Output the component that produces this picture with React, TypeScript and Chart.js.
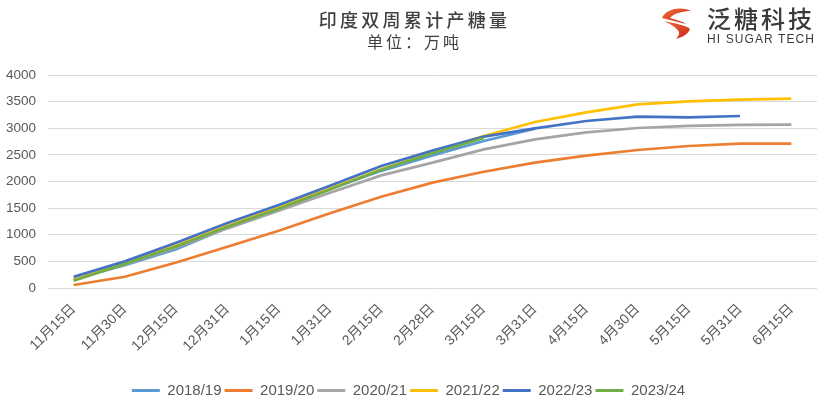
import React, { useEffect, useRef } from "react";
import { Chart, registerables } from "chart.js";

Chart.register(...registerables);

const categories = [
  "11月15日", "11月30日", "12月15日", "12月31日", "1月15日", "1月31日", "2月15日",
  "2月28日", "3月15日", "3月31日", "4月15日", "4月30日", "5月15日", "5月31日", "6月15日",
];

const seriesNames = ["2018/19", "2019/20", "2020/21", "2021/22", "2022/23", "2023/24"];
const seriesColors = ["#5B9BD5", "#ED7D31", "#A5A5A5", "#FFC000", "#4472C4", "#70AD47"];

const s2018 = [170, 430, 730, 1130, 1480, 1860, 2200, 2490, 2760, 2990, null, null, null, null, null];
const s2019 = [56, 212, 480, 776, 1076, 1403, 1715, 1978, 2184, 2353, 2485, 2592, 2667, 2710, 2710];
const s2020 = [160, 440, 760, 1120, 1450, 1790, 2115, 2355, 2604, 2792, 2923, 3005, 3045, 3065, 3067];
const s2021 = [150, 460, 800, 1170, 1510, 1870, 2230, 2540, 2854, 3117, 3298, 3449, 3505, 3537, 3555];
const s2022 = [212, 500, 850, 1220, 1560, 1920, 2291, 2580, 2842, 2998, 3136, 3217, 3205, 3230, null];
const s2023 = [137, 450, 780, 1150, 1490, 1850, 2220, 2530, 2817, null, null, null, null, null, null];

const seriesValues = [s2018, s2019, s2020, s2021, s2022, s2023];

const yTicks = [0, 500, 1000, 1500, 2000, 2500, 3000, 3500, 4000];

const CANVAS_H = 408;

export default function App() {
  const ref = useRef<HTMLCanvasElement | null>(null);

  useEffect(() => {
    document.body.style.margin = "0";
    const canvas = ref.current;
    if (!canvas) return;
    const chart = new Chart(canvas, {
      type: "line",
      data: {
        labels: categories,
        datasets: seriesNames.map((name, i) => ({
          label: name,
          data: seriesValues[i],
          borderColor: seriesColors[i],
          backgroundColor: seriesColors[i],
          borderWidth: 2.7,
          pointRadius: 0,
          pointHoverRadius: 0,
          tension: 0,
          fill: false,
          order: seriesNames.length - i,
        })),
      },
      options: {
        animation: false,
        responsive: false,
        maintainAspectRatio: false,
        devicePixelRatio: 1,
        layout: { padding: { top: 75, left: 0, right: 9, bottom: 0 } },
        plugins: {
          title: { display: false },
          tooltip: { enabled: false },
          legend: {
            position: "bottom",
            labels: {
              boxWidth: 28,
              boxHeight: 3,
              padding: 3,
              color: "#595959",
              font: { family: "'Liberation Sans', Arial, sans-serif", size: 15 },
              sort: (a: any, b: any) => a.datasetIndex - b.datasetIndex,
              generateLabels: (c: any) =>
                Chart.defaults.plugins.legend.labels.generateLabels(c).map((l: any) => ({
                  ...l,
                  lineWidth: 0,
                })),
            },
          },
        },
        scales: {
          x: {
            type: "category",
            offset: true,
            grid: { display: false },
            border: { display: false },
            ticks: {
              minRotation: 45,
              maxRotation: 45,
              autoSkip: false,
              padding: 5,
              color: "#595959",
              font: { family: "'Liberation Sans', 'Noto Sans CJK SC', sans-serif", size: 14 },
            },
            afterFit: (axis: any) => {
              axis.height = CANVAS_H - 28 - 288;
            },
          },
          y: {
            min: 0,
            max: 4000,
            afterBuildTicks: (axis: any) => {
              axis.ticks = yTicks.map((v) => ({ value: v }));
            },
            grid: { color: "#d9d9d9", lineWidth: 1, drawTicks: false },
            border: { display: false },
            ticks: {
              padding: 12,
              color: "#595959",
              font: { family: "'Liberation Sans', Arial, sans-serif", size: 13.5 },
              callback: (v: any) => String(v),
            },
            afterFit: (axis: any) => {
              axis.width = 48;
            },
          },
        },
      },
    });
    return () => chart.destroy();
  }, []);

  return (
    <div
      style={{
        position: "fixed",
        left: 0,
        top: 0,
        width: 826,
        height: 406,
        overflow: "hidden",
        background: "#fff",
      }}
    >
      <canvas ref={ref} width={826} height={CANVAS_H} style={{ position: "absolute", left: 0, top: 0, width: 826, height: CANVAS_H }} />
      <div
        style={{
          position: "absolute",
          left: 0,
          width: 826,
          top: 7,
          textAlign: "center",
          fontFamily: "'Noto Sans CJK SC', sans-serif",
          fontSize: 18,
          lineHeight: "24px",
          letterSpacing: 3.3,
          color: "#404040",
          fontWeight: 500,
          paddingLeft: 3,
          boxSizing: "border-box",
        }}
      >
        印度双周累计产糖量
      </div>
      <div
        style={{
          position: "absolute",
          left: 0,
          width: 826,
          top: 30,
          textAlign: "center",
          fontFamily: "'Noto Sans CJK SC', sans-serif",
          fontSize: 16,
          lineHeight: "22px",
          letterSpacing: 3,
          color: "#404040",
          paddingLeft: 3,
          boxSizing: "border-box",
        }}
      >
        单位：万吨
      </div>
      <svg style={{ position: "absolute", left: 658, top: 5 }} width={38} height={36} viewBox="0 0 38 36">
        <defs>
          <linearGradient id="lg" x1="0" y1="0" x2="1" y2="1">
            <stop offset="0" stopColor="#f26a35" />
            <stop offset="1" stopColor="#c8281e" />
          </linearGradient>
        </defs>
        <path d="M4 13 C8 4, 22 1, 33 6 C26 6, 16 8, 12 13 C18 15, 24 16, 28 19 Z" fill="url(#lg)" />
        <path d="M6 16 C14 18, 28 20, 32 24 C30 30, 22 33, 18 34 C24 28, 22 24, 6 16 Z" fill="url(#lg)" />
      </svg>
      <div
        style={{
          position: "absolute",
          left: 707,
          top: 4,
          fontFamily: "'Noto Sans CJK SC', sans-serif",
          fontSize: 24,
          lineHeight: "28px",
          letterSpacing: 3,
          color: "#3a3a3a",
          fontWeight: 500,
          whiteSpace: "nowrap",
        }}
      >
        泛糖科技
      </div>
      <div
        style={{
          position: "absolute",
          left: 707,
          top: 32,
          fontFamily: "'Liberation Sans', Arial, sans-serif",
          fontSize: 12,
          lineHeight: "14px",
          letterSpacing: 1.1,
          color: "#3a3a3a",
          whiteSpace: "nowrap",
        }}
      >
        HI SUGAR TECH
      </div>
    </div>
  );
}
